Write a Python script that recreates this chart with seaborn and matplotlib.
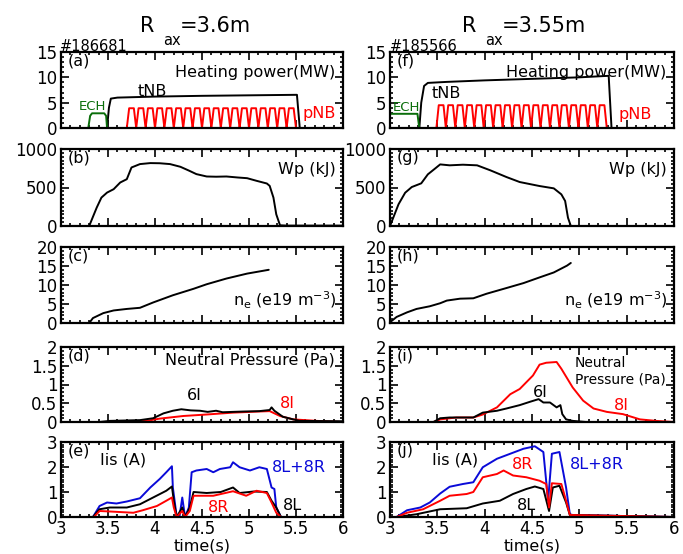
import numpy as np
import pandas as pd
import matplotlib
matplotlib.use("Agg")
import matplotlib.pyplot as plt
from matplotlib.ticker import MultipleLocator, FuncFormatter
import seaborn as sns

sns.set_style("ticks")
plt.rcParams['font.family'] = ['DejaVu Sans']
plt.rcParams['text.color'] = 'black'
plt.rcParams['axes.labelcolor'] = 'black'
plt.rcParams['xtick.color'] = 'black'
plt.rcParams['ytick.color'] = 'black'
plt.rcParams['axes.edgecolor'] = 'black'

# ---------------- data ----------------
# Panel (a) heating power, shot 186681
ech_l_t = [3.0, 3.29, 3.31, 3.33, 3.46, 3.48, 3.49, 3.50]
ech_l_v = [0, 0, 2.4, 2.9, 2.9, 2.4, 0, 0]
tnb_l_t = [3.0, 3.49, 3.51, 3.53, 3.60, 4.0, 4.5, 5.0, 5.51, 5.54, 6.0]
tnb_l_v = [0, 0, 4.0, 5.8, 6.0, 6.2, 6.35, 6.45, 6.55, 0, 0]
pnb_l_starts = [3.70, 3.80, 3.90, 4.00, 4.10, 4.20, 4.30, 4.40, 4.50,
                4.60, 4.70, 4.80, 4.90, 5.00, 5.10, 5.20, 5.30, 5.40]
pnb_l_peak = 3.9

# Panel (f) heating power, shot 185566
ech_r_t = [3.0, 3.29, 3.305, 3.31]
ech_r_v = [2.8, 2.8, 0.6, 0]
tnb_r_t = [3.0, 3.31, 3.33, 3.36, 3.40, 3.60, 4.0, 4.5, 5.0, 5.31, 5.34, 6.0]
tnb_r_v = [0, 0, 5.0, 8.3, 8.9, 9.1, 9.4, 9.7, 10.0, 10.3, 0, 0]
pnb_r_starts = [3.49, 3.59, 3.69, 3.79, 3.89, 3.99, 4.09, 4.19, 4.29,
                4.39, 4.49, 4.59, 4.69, 4.79, 4.89, 4.99, 5.09, 5.19]
pnb_r_peak = 4.5

# Panel (b) / (g) stored energy Wp (kJ)
wp_l_t = [3.0, 3.30, 3.34, 3.38, 3.43, 3.49, 3.56, 3.63, 3.70, 3.75, 3.84, 3.95,
          4.05, 4.16, 4.27, 4.36, 4.44, 4.55, 4.65, 4.76, 4.88, 4.98, 5.08, 5.19,
          5.22, 5.26, 5.29, 5.33, 5.40, 6.0]
wp_l_v = [0, 0, 120, 239, 369, 434, 478, 565, 608, 760, 804, 817,
          815, 804, 769, 720, 674, 643, 640, 643, 630, 621, 587, 552,
          521, 369, 152, 9, 5, 5]
wp_r_t = [3.0, 3.09, 3.16, 3.23, 3.33, 3.40, 3.47, 3.53, 3.63, 3.77, 3.92, 4.06,
          4.23, 4.37, 4.58, 4.73, 4.81, 4.85, 4.88, 4.91, 5.2]
wp_r_v = [0, 282, 432, 506, 554, 671, 740, 800, 788, 796, 788, 723,
          636, 571, 519, 489, 411, 325, 108, 0, 0]

# Panel (c) / (h) density ne (e19 m^-3)
ne_l_t = [3.30, 3.34, 3.45, 3.56, 3.70, 3.84, 3.98, 4.19, 4.41, 4.55, 4.76, 4.98, 5.21]
ne_l_v = [0, 1.3, 2.6, 3.3, 3.7, 4.0, 5.4, 7.3, 9.0, 10.2, 11.7, 13.0, 14.0]
ne_r_t = [3.0, 3.07, 3.18, 3.28, 3.42, 3.53, 3.60, 3.74, 3.88, 4.02, 4.23, 4.41,
          4.58, 4.73, 4.87, 4.91]
ne_r_v = [0.2, 1.6, 2.8, 3.7, 4.4, 5.2, 5.9, 6.4, 6.5, 7.7, 9.2, 10.5,
          12.0, 13.3, 15.1, 15.8]

# Panel (d) / (i) neutral pressure (Pa)
p6_l_t = [3.35, 3.41, 3.52, 3.84, 3.98, 4.09, 4.19, 4.28, 4.38, 4.48, 4.56, 4.65,
          4.72, 4.83, 4.95, 5.11, 5.22, 5.24, 5.27, 5.36, 5.47, 5.54, 6.0]
p6_l_v = [0, 0, 0.03, 0.05, 0.10, 0.23, 0.30, 0.34, 0.31, 0.30, 0.27, 0.30,
          0.26, 0.27, 0.28, 0.29, 0.32, 0.39, 0.30, 0.14, 0.07, 0.03, 0.02]
p8_l_t = [3.30, 3.59, 3.91, 4.05, 4.30, 4.55, 4.83, 5.11, 5.22, 5.33, 5.47, 5.72, 6.0]
p8_l_v = [0, 0, 0.03, 0.09, 0.16, 0.20, 0.25, 0.28, 0.29, 0.16, 0.07, 0.03, 0.0]
p6_r_t = [3.0, 3.46, 3.53, 3.63, 3.88, 3.98, 4.13, 4.23, 4.37, 4.48, 4.57, 4.62,
          4.69, 4.76, 4.80, 4.82, 4.86, 4.93, 5.07, 6.0]
p6_r_v = [0, 0, 0.10, 0.12, 0.12, 0.25, 0.30, 0.36, 0.45, 0.54, 0.61, 0.52,
          0.52, 0.39, 0.45, 0.21, 0.07, 0.03, 0.0, 0.0]
p8_r_t = [3.0, 3.46, 3.53, 3.70, 3.88, 3.98, 4.13, 4.27, 4.37, 4.51, 4.58, 4.65,
          4.76, 4.81, 4.93, 5.04, 5.15, 5.29, 5.46, 5.64, 5.81, 6.0]
p8_r_v = [0, 0, 0.07, 0.12, 0.12, 0.20, 0.39, 0.74, 0.88, 1.24, 1.53, 1.58,
          1.60, 1.42, 0.92, 0.57, 0.36, 0.27, 0.21, 0.07, 0.03, 0.0]

# Panel (e) / (j) ion saturation current Iis (A)
isum_l_t = [3.0, 3.34, 3.41, 3.49, 3.59, 3.70, 3.84, 3.95, 4.05, 4.12, 4.18, 4.19,
            4.23, 4.26, 4.29, 4.32, 4.36, 4.39, 4.44, 4.55, 4.62, 4.69, 4.80, 4.83,
            4.90, 5.01, 5.11, 5.19, 5.24, 5.27, 5.29, 5.34, 6.0]
isum_l_v = [0, 0, 0.44, 0.58, 0.54, 0.62, 0.75, 1.18, 1.52, 1.79, 2.03, 1.18,
            0.04, 0, 0.78, 0, 0.38, 1.79, 1.86, 1.92, 1.79, 1.92, 1.99, 2.19,
            1.99, 1.86, 1.99, 1.92, 1.18, 1.12, 0.38, 0, 0]
i8l_l_t = [3.0, 3.34, 3.41, 3.52, 3.70, 3.84, 3.98, 4.12, 4.18, 4.20, 4.23, 4.29,
           4.32, 4.37, 4.41, 4.55, 4.70, 4.83, 4.90, 5.05, 5.19, 5.24, 5.29, 5.34, 6.0]
i8l_l_v = [0, 0, 0.31, 0.38, 0.38, 0.51, 0.78, 1.05, 1.22, 0.65, 0, 0.38,
           0, 0.38, 1.0, 0.96, 1.0, 1.18, 0.96, 1.02, 1.0, 0.65, 0.38, 0, 0]
i8r_l_t = [3.0, 3.35, 3.41, 3.52, 3.77, 3.87, 4.02, 4.12, 4.18, 4.20, 4.23, 4.29,
           4.32, 4.37, 4.41, 4.62, 4.83, 4.97, 5.08, 5.19, 5.24, 5.29, 5.34, 6.0]
i8r_l_v = [0, 0, 0.24, 0.22, 0.17, 0.27, 0.44, 0.65, 0.78, 0.38, 0, 0.24,
           0, 0.24, 0.85, 0.85, 1.03, 0.85, 1.05, 0.96, 0.58, 0.17, 0, 0]
isum_r_t = [3.0, 3.07, 3.18, 3.32, 3.42, 3.53, 3.63, 3.77, 3.88, 3.98, 4.13, 4.27,
            4.41, 4.53, 4.62, 4.67, 4.71, 4.79, 4.86, 4.90, 4.93, 6.0]
isum_r_v = [0, 0, 0.27, 0.38, 0.58, 0.94, 1.21, 1.32, 1.39, 1.99, 2.33, 2.53,
            2.73, 2.83, 2.60, 0.65, 2.53, 2.60, 1.18, 0.11, 0.08, 0.0]
i8r_r_t = [3.0, 3.07, 3.18, 3.35, 3.53, 3.63, 3.81, 3.88, 3.98, 4.13, 4.20, 4.30,
           4.44, 4.58, 4.65, 4.68, 4.71, 4.81, 4.86, 4.90, 6.0]
i8r_r_v = [0, 0, 0.17, 0.31, 0.65, 0.85, 0.92, 1.0, 1.59, 1.72, 1.86, 1.66,
           1.59, 1.45, 1.32, 0.38, 1.35, 1.32, 0.65, 0.08, 0.0]
i8l_r_t = [3.0, 3.07, 3.28, 3.53, 3.81, 3.98, 4.16, 4.30, 4.44, 4.53, 4.62, 4.68,
           4.72, 4.79, 4.86, 4.90, 6.0]
i8l_r_v = [0, 0, 0.11, 0.31, 0.35, 0.54, 0.65, 0.92, 1.12, 1.22, 1.12, 0.24,
           1.18, 1.25, 0.58, 0.08, 0.0]

# ---------------- styling constants ----------------
BLACK = 'black'
RED = '#ff0000'
BLUE = '#0a0ad8'
GREEN = '#0a6e0a'
LW = 1.4
FS = 11.5
TFS = 12

W, H = 683, 554
fig = plt.figure(figsize=(W / 100, H / 100), dpi=100)

col_left = [61, 390]
col_width = [282, 284]
rows = [(52, 128), (149, 226), (247, 323), (347, 422), (442, 517)]

fmt = FuncFormatter(lambda v, p: f'{v:g}')


def make_ax(col, row):
    x0 = col_left[col]
    top, bot = rows[row]
    ax = fig.add_axes([x0 / W, 1 - bot / H, col_width[col] / W, (bot - top) / H])
    return ax


def style(ax, ylim, ymaj, ymin, bottom):
    ax.set_xlim(3, 6)
    ax.set_ylim(*ylim)
    ax.xaxis.set_major_locator(MultipleLocator(0.5))
    ax.xaxis.set_minor_locator(MultipleLocator(0.1))
    ax.yaxis.set_major_locator(MultipleLocator(ymaj))
    ax.yaxis.set_minor_locator(MultipleLocator(ymin))
    ax.xaxis.set_major_formatter(fmt)
    ax.yaxis.set_major_formatter(fmt)
    ax.tick_params(which='both', direction='in', top=True, right=True,
                   labelsize=TFS, pad=2.5, width=1.2, colors='black')
    ax.tick_params(which='major', length=5.5)
    ax.tick_params(which='minor', length=2.5)
    ax.tick_params(axis='x', labelbottom=bottom)
    for s in ax.spines.values():
        s.set_linewidth(1.6)
        s.set_visible(True)
        s.set_color('black')
    ax.set_ylabel('')
    if bottom:
        ax.set_xlabel('time(s)', fontsize=FS, labelpad=0, color='black')
    else:
        ax.set_xlabel('')


def line(ax, t, v, color):
    sns.lineplot(x=t, y=v, ax=ax, color=color, linewidth=LW,
                 estimator=None, sort=False, legend=False)


def pulses(starts, peak):
    t, v = [3.0], [0.0]
    for s in starts:
        t += [s, s + 0.025, s + 0.075, s + 0.1]
        v += [0.0, peak, peak, 0.0]
    t.append(6.0)
    v.append(0.0)
    return t, v


letters = [['(a)', '(b)', '(c)', '(d)', '(e)'], ['(f)', '(g)', '(h)', '(i)', '(j)']]

for col in range(2):
    axs = [make_ax(col, r) for r in range(5)]
    if col == 0:
        ech_t, ech_v, tnb_t, tnb_v = ech_l_t, ech_l_v, tnb_l_t, tnb_l_v
        pt, pv = pulses(pnb_l_starts, pnb_l_peak)
        wp_t, wp_v, ne_t, ne_v = wp_l_t, wp_l_v, ne_l_t, ne_l_v
        p6t, p6v, p8t, p8v = p6_l_t, p6_l_v, p8_l_t, p8_l_v
        st, sv, lt, lv, rt, rv = isum_l_t, isum_l_v, i8l_l_t, i8l_l_v, i8r_l_t, i8r_l_v
    else:
        ech_t, ech_v, tnb_t, tnb_v = ech_r_t, ech_r_v, tnb_r_t, tnb_r_v
        pt, pv = pulses(pnb_r_starts, pnb_r_peak)
        wp_t, wp_v, ne_t, ne_v = wp_r_t, wp_r_v, ne_r_t, ne_r_v
        p6t, p6v, p8t, p8v = p6_r_t, p6_r_v, p8_r_t, p8_r_v
        st, sv, lt, lv, rt, rv = isum_r_t, isum_r_v, i8l_r_t, i8l_r_v, i8r_r_t, i8r_r_v

    # (a)/(f)
    ax = axs[0]
    line(ax, pt, pv, RED)
    line(ax, tnb_t, tnb_v, BLACK)
    line(ax, ech_t, ech_v, GREEN)
    style(ax, (0, 15), 5, 1, False)
    ax.text(0.972, 0.83, 'Heating power(MW)', transform=ax.transAxes,
            ha='right', va='top', fontsize=FS)
    if col == 0:
        ax.text(3.81, 7.3, 'tNB', ha='left', va='center', fontsize=FS)
        ax.text(3.19, 4.3, 'ECH', ha='left', va='center', fontsize=9.5, color=GREEN)
        ax.text(5.57, 2.9, 'pNB', ha='left', va='center', fontsize=FS, color=RED)
    else:
        ax.text(3.44, 6.8, 'tNB', ha='left', va='center', fontsize=FS)
        ax.text(3.03, 4.1, 'ECH', ha='left', va='center', fontsize=9.5, color=GREEN)
        ax.text(5.41, 2.6, 'pNB', ha='left', va='center', fontsize=FS, color=RED)

    # (b)/(g)
    ax = axs[1]
    line(ax, wp_t, wp_v, BLACK)
    style(ax, (0, 1000), 500, 50, False)
    ax.text(0.975, 0.83, 'Wp (kJ)', transform=ax.transAxes,
            ha='right', va='top', fontsize=FS)

    # (c)/(h)
    ax = axs[2]
    line(ax, ne_t, ne_v, BLACK)
    style(ax, (0, 20), 5, 1, False)
    ax.text(0.978, 0.30, r'n$_{\mathregular{e}}$ (e19 m$^{\mathregular{-3}}$)',
            transform=ax.transAxes, ha='right', va='center', fontsize=FS)

    # (d)/(i)
    ax = axs[3]
    line(ax, p8t, p8v, RED)
    line(ax, p6t, p6v, BLACK)
    style(ax, (0, 2), 0.5, 0.1, False)
    if col == 0:
        ax.text(0.972, 0.92, 'Neutral Pressure (Pa)', transform=ax.transAxes,
                ha='right', va='top', fontsize=FS)
        ax.text(4.34, 0.71, '6I', ha='left', va='center', fontsize=FS)
        ax.text(5.33, 0.48, '8I', ha='left', va='center', fontsize=FS, color=RED)
    else:
        ax.text(4.95, 1.75, 'Neutral\nPressure (Pa)', ha='left', va='top',
                fontsize=10, linespacing=1.15)
        ax.text(4.51, 0.79, '6I', ha='left', va='center', fontsize=FS)
        ax.text(5.37, 0.45, '8I', ha='left', va='center', fontsize=FS, color=RED)

    # (e)/(j)
    ax = axs[4]
    line(ax, st, sv, BLUE)
    line(ax, lt, lv, BLACK)
    line(ax, rt, rv, RED)
    style(ax, (0, 3), 1, 0.1, True)
    if col == 0:
        ax.text(3.41, 2.28, 'Iis (A)', ha='left', va='center', fontsize=FS)
        ax.text(5.24, 2.0, '8L+8R', ha='left', va='center', fontsize=FS, color=BLUE)
        ax.text(4.56, 0.4, '8R', ha='left', va='center', fontsize=FS, color=RED)
        ax.text(5.36, 0.47, '8L', ha='left', va='center', fontsize=FS)
    else:
        ax.text(3.44, 2.28, 'Iis (A)', ha='left', va='center', fontsize=FS)
        ax.text(4.90, 2.1, '8L+8R', ha='left', va='center', fontsize=FS, color=BLUE)
        ax.text(4.29, 2.1, '8R', ha='left', va='center', fontsize=FS, color=RED)
        ax.text(4.34, 0.45, '8L', ha='left', va='center', fontsize=FS)

    for ax, lab in zip(axs, letters[col]):
        ax.text(0.022, 0.985, lab, transform=ax.transAxes, ha='left', va='top',
                fontsize=FS)

# shot numbers and titles
fig.text(60 / W, 1 - 51 / H, '#186681', ha='left', va='baseline', fontsize=10.5)
fig.text(390 / W, 1 - 51 / H, '#185566', ha='left', va='baseline', fontsize=10.5)

fig.text(140 / W, 1 - 32 / H, 'R', ha='left', va='baseline', fontsize=15)
fig.text(163 / W, 1 - 45 / H, 'ax', ha='left', va='baseline', fontsize=10.5)
fig.text(180 / W, 1 - 32 / H, '=3.6m', ha='left', va='baseline', fontsize=15)

fig.text(462 / W, 1 - 32 / H, 'R', ha='left', va='baseline', fontsize=15)
fig.text(485 / W, 1 - 45 / H, 'ax', ha='left', va='baseline', fontsize=10.5)
fig.text(502 / W, 1 - 32 / H, '=3.55m', ha='left', va='baseline', fontsize=15)

fig.savefig('out.png', dpi=100)
